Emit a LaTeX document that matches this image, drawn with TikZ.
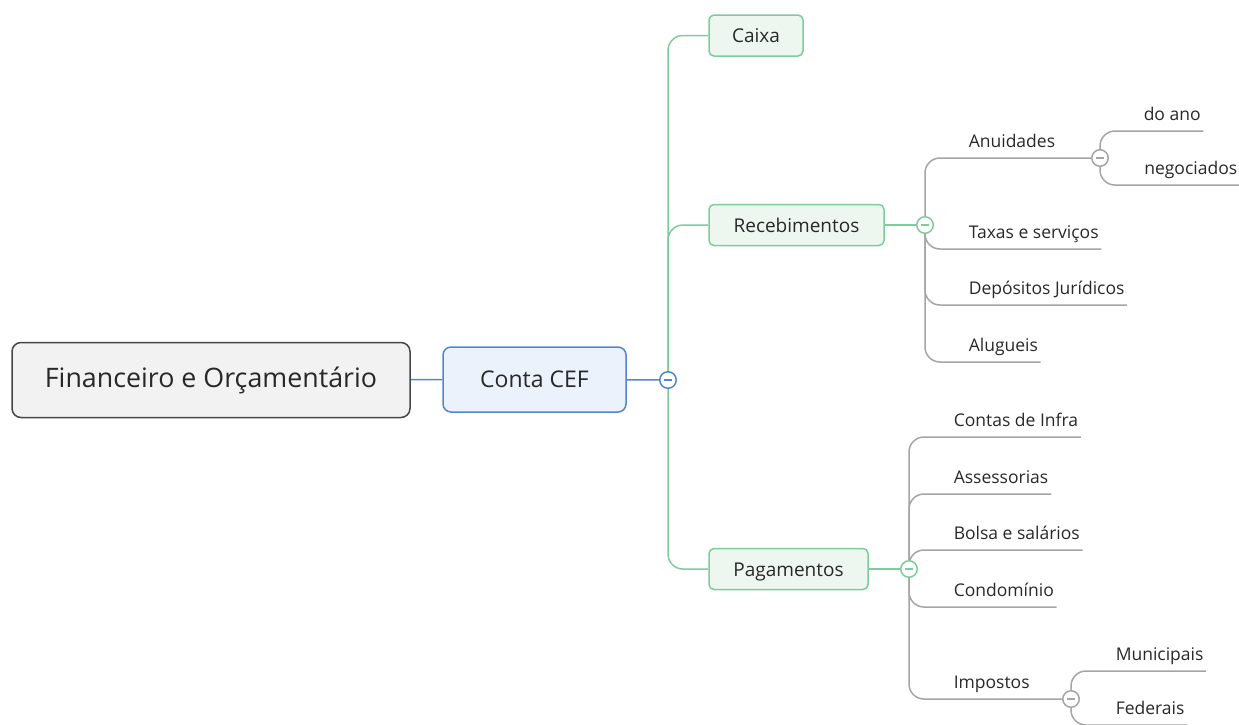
\documentclass[tikz,border=0pt]{standalone}
\usepackage{fontspec}
\setmainfont{Open Sans}
\usepackage{tikz}
\usetikzlibrary{positioning, backgrounds}
\usepackage{xcolor}
\definecolor{rootfill}{RGB}{242,242,242}
\definecolor{rootdraw}{RGB}{70,70,70}
\definecolor{cefill}{RGB}{235,242,252}
\definecolor{cefdraw}{RGB}{84,135,200}
\definecolor{grfill}{RGB}{237,247,240}
\definecolor{grdraw}{RGB}{125,205,155}
\definecolor{leafline}{RGB}{165,165,165}
\definecolor{txt}{RGB}{40,40,40}

\begin{document}
\begin{tikzpicture}[x=1pt, y=-1pt, line width=1.5pt, text=txt,
  rootbox/.style={draw=rootdraw, fill=rootfill, rounded corners=9pt, minimum width=398pt, minimum height=75pt, font=\fontsize{26.8}{30}\selectfont},
  cefbox/.style={draw=cefdraw, fill=cefill, rounded corners=8pt, minimum width=183pt, minimum height=65pt, font=\fontsize{23}{27}\selectfont},
  topic/.style={draw=grdraw, fill=grfill, rounded corners=5pt, minimum height=41pt, text height=16.5pt, text depth=2pt, font=\fontsize{19}{22}\selectfont},
  leaf/.style={anchor=south west, inner xsep=2pt, inner ysep=0pt, text depth=10pt, font=\fontsize{17.5}{20}\selectfont},
  fold/.style={circle, draw=#1, fill=white, minimum size=16.5pt, inner sep=0pt,
    path picture={\draw[#1, line width=1.3pt] ([xshift=-4pt]path picture bounding box.center) -- ([xshift=4pt]path picture bounding box.center);}},
  cline/.style={cefdraw, line width=1.5pt},
  gline/.style={grdraw, line width=1.5pt, rounded corners=15pt},
  lline/.style={leafline, line width=1.5pt, rounded corners=15pt}]
\useasboundingbox (0,0) rectangle (1239,724);

% main nodes
\node[rootbox] (root) at (211,380) {Financeiro e Orçamentário};
\node[cefbox] (conta) at (534.5,379.5) {Conta CEF};
\node[fold=cefdraw] (fconta) at (668,380) {};

\node[topic, minimum width=94pt] (caixa) at (756,35.5) {Caixa};
\node[topic, minimum width=175pt] (receb) at (796.5,225) {Recebimentos};
\node[topic, minimum width=159pt] (pagam) at (788.5,569) {Pagamentos};
\node[fold=grdraw] (freceb) at (925,225) {};
\node[fold=grdraw] (fpagam) at (909,569) {};

% recebimentos
\node[leaf] (anuid) at (966,158) {Anuidades};
\node[leaf] (taxas) at (966,249) {Taxas e serviços};
\node[leaf] (depos) at (966,305) {Depósitos Jurídicos};
\node[leaf] (alugu) at (966,362) {Alugueis};
\node[fold=leafline] (fanuid) at (1100,158) {};
\node[leaf] (doano) at (1141,131) {do ano};
\node[leaf, minimum width=98pt] (negoc) at (1141,185) {negociados};

% pagamentos
\node[leaf] (infra) at (951,437) {Contas de Infra};
\node[leaf] (asses) at (951,494) {Assessorias};
\node[leaf] (bolsa) at (951,550) {Bolsa e salários};
\node[leaf] (condo) at (951,607) {Condomínio};
\node[leaf] (impos) at (951,699) {Impostos};
\node[fold=leafline] (fimpos) at (1071,699) {};
\node[leaf] (munic) at (1113,671) {Municipais};
\node[leaf] (feder) at (1113,725) {Federais};

\begin{scope}[on background layer]
\draw[cline] (root) -- (conta);
\draw[cline] (conta) -- (fconta);
\draw[gline] (fconta.center) |- (caixa.west);
\draw[gline] (fconta.center) |- (receb.west);
\draw[gline] (fconta.center) |- (pagam.west);
\draw[gline] (receb) -- (freceb);
\draw[gline] (pagam) -- (fpagam);

\draw[lline] (freceb.center) |- (fanuid.center);
\draw[lline] (freceb.center) |- (taxas.south east);
\draw[lline] (freceb.center) |- (depos.south east);
\draw[lline] (freceb.center) |- (alugu.south east);
\draw[lline] (fanuid.center) |- (doano.south east);
\draw[lline] (fanuid.center) |- (negoc.south east);

\draw[lline] (fpagam.center) |- (infra.south east);
\draw[lline] (fpagam.center) |- (asses.south east);
\draw[lline] (fpagam.center) |- (bolsa.south east);
\draw[lline] (fpagam.center) |- (condo.south east);
\draw[lline] (fpagam.center) |- (fimpos.center);
\draw[lline] (fimpos.center) |- (munic.south east);
\draw[lline] (fimpos.center) |- (feder.south east);
\end{scope}
\end{tikzpicture}
\end{document}
